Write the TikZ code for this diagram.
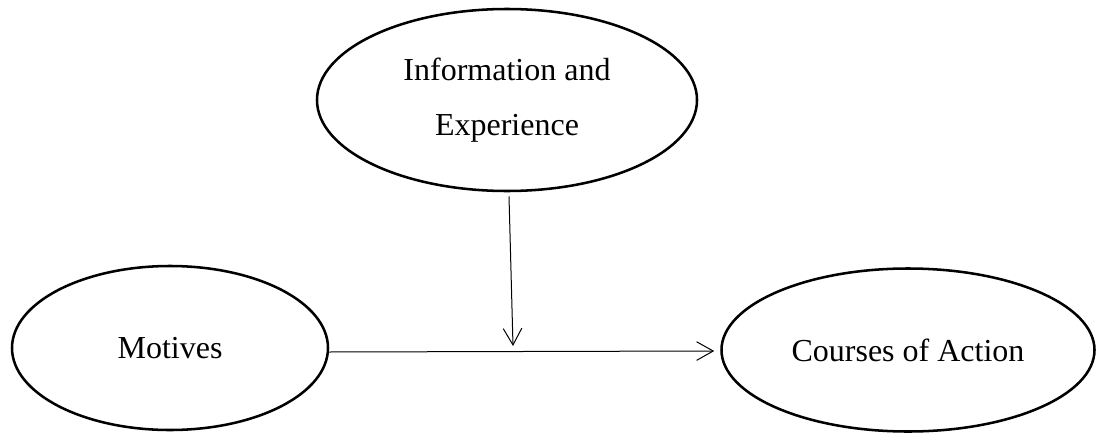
\documentclass[tikz,border=0pt]{standalone}
\usepackage{fontspec}
\setmainfont{Liberation Serif}
\usetikzlibrary{shapes.geometric,arrows.meta}
\begin{document}
\begin{tikzpicture}[x=0.75pt,y=-0.75pt,
  bubble/.style={draw,ellipse,line width=1.9pt,inner sep=0pt,
    font=\fontsize{24}{41}\selectfont,align=center},
  link/.style={line width=0.75pt,-{Straight Barb[length=12.5pt,width=14pt]}}]
\useasboundingbox (0,0) rectangle (1096,432);
\node[bubble,minimum width=380*0.75pt,minimum height=182*0.75pt] (I) at (507,100) {Information and\\Experience};
\node[bubble,minimum width=316*0.75pt,minimum height=164*0.75pt] (M) at (170,348) {Motives};
\node[bubble,minimum width=373*0.75pt,minimum height=163*0.75pt] (C) at (908,350) {Courses of Action};
\coordinate (meet) at (513,346);
\draw[link] ([yshift=-3pt]M.east) -- ([xshift=-4.5pt,yshift=-0.75pt]C.west);
\draw[link] ([xshift=1.5pt,yshift=-3pt]I.south) -- (meet);
\end{tikzpicture}
\end{document}
